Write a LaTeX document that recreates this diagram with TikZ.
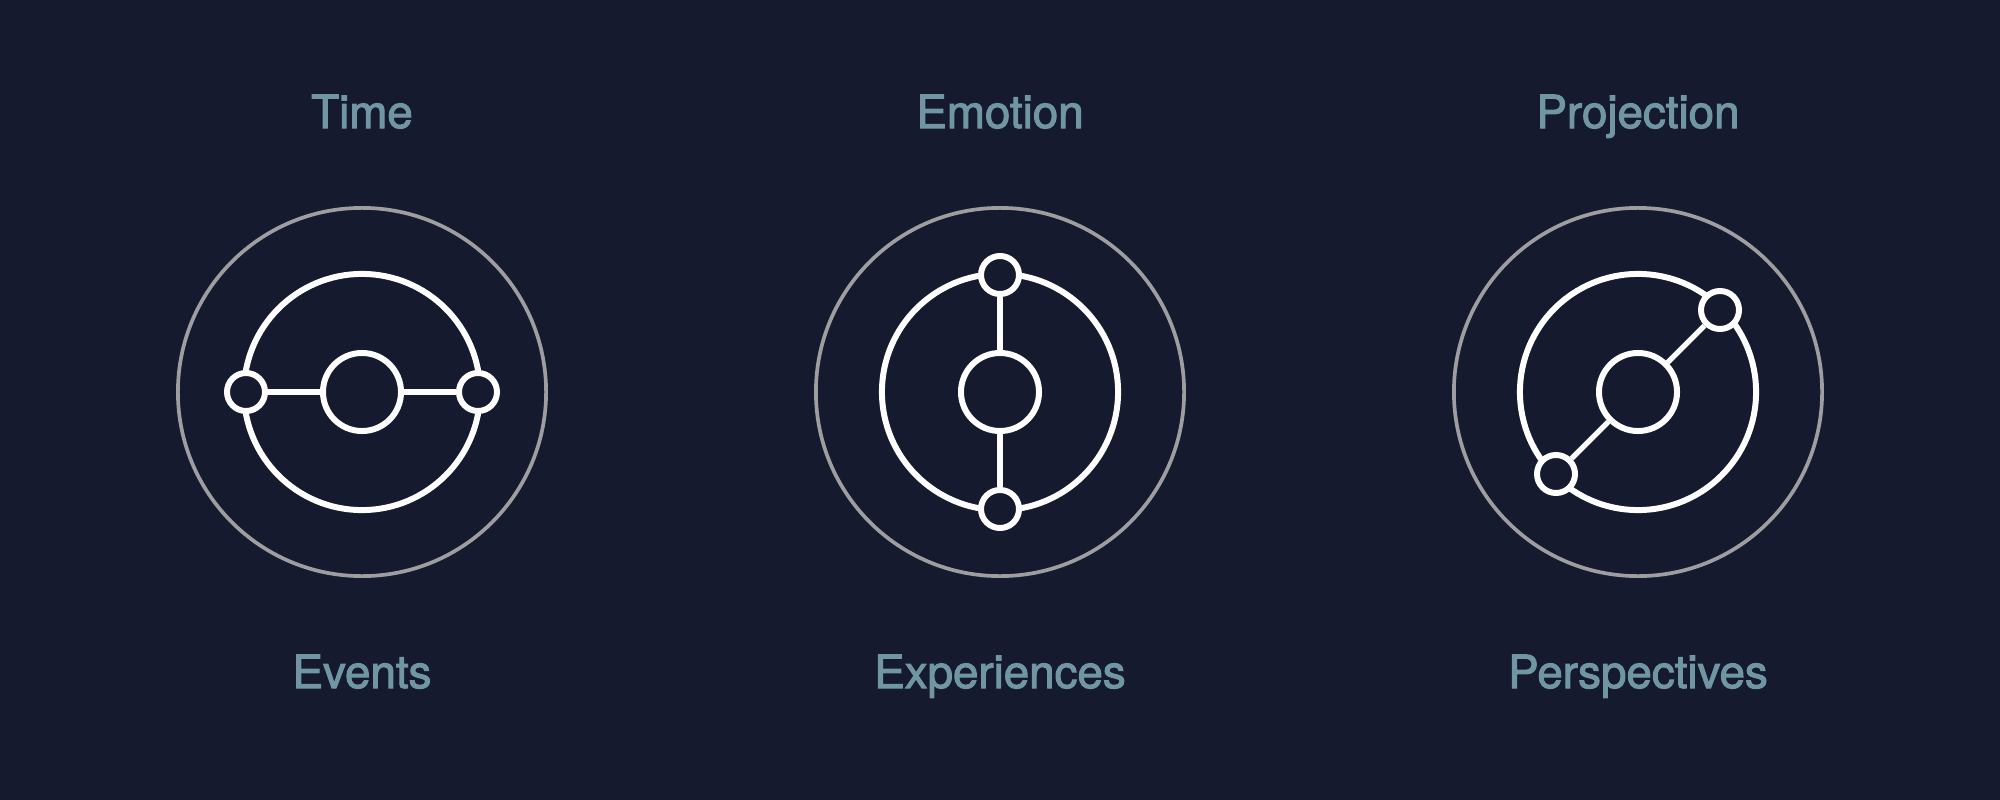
\documentclass[tikz,border=0pt]{standalone}
\usepackage{fontspec}
\setmainfont{TeX Gyre Heros}
\newfontfamily\labfont[FakeBold=2.2]{TeX Gyre Heros}
\definecolor{bg}{RGB}{22,26,46}
\definecolor{txt}{RGB}{112,150,163}
\definecolor{ringgray}{RGB}{158,158,160}
\begin{document}
\begin{tikzpicture}[x=0.01cm,y=-0.01cm,
  outerring/.style={circle,draw=ringgray,line width=1.05pt,minimum size=3.68cm,inner sep=0pt},
  innerring/.style={circle,draw=white,line width=1.7pt,minimum size=2.36cm,inner sep=0pt},
  hub/.style={circle,draw=white,fill=bg,line width=1.7pt,minimum size=0.78cm,inner sep=0pt},
  knob/.style={circle,draw=white,fill=bg,line width=1.7pt,minimum size=0.38cm,inner sep=0pt},
  link/.style={draw=white,line width=1.5pt},
  lab/.style={text=txt,font=\labfont\fontsize{13pt}{15pt}\selectfont,anchor=base,inner sep=0pt}]
\fill[bg] (0,0) rectangle (2000,800);
\useasboundingbox (0,0) rectangle (2000,800);
% Time
\node[outerring] (o1) at (362,392) {};
\node[innerring] (r1) at (362,392) {};
\node[hub] (c1) at (362,392) {};
\node[knob] (a1) at (246,392) {};
\node[knob] (b1) at (478,392) {};
\draw[link] (a1) -- (c1);
\draw[link] (c1) -- (b1);
\node[lab] (t1) at (362,128) {Time};
\node[lab] (s1) at (362,688) {Events};
% Emotion
\node[outerring] (o2) at (1000,392) {};
\node[innerring] (r2) at (1000,392) {};
\node[hub] (c2) at (1000,392) {};
\node[knob] (a2) at (1000,275) {};
\node[knob] (b2) at (1000,509) {};
\draw[link] (a2) -- (c2);
\draw[link] (c2) -- (b2);
\node[lab] (t2) at (1000,128) {Emotion};
\node[lab] (s2) at (1000,688) {Experiences};
% Projection
\node[outerring] (o3) at (1638,392) {};
\node[innerring] (r3) at (1638,392) {};
\node[hub] (c3) at (1638,392) {};
\node[knob] (a3) at (1720,310) {};
\node[knob] (b3) at (1556,474) {};
\draw[link] (a3) -- (c3);
\draw[link] (c3) -- (b3);
\node[lab] (t3) at (1638,128) {Projection};
\node[lab] (s3) at (1638,688) {Perspectives};
\end{tikzpicture}
\end{document}
